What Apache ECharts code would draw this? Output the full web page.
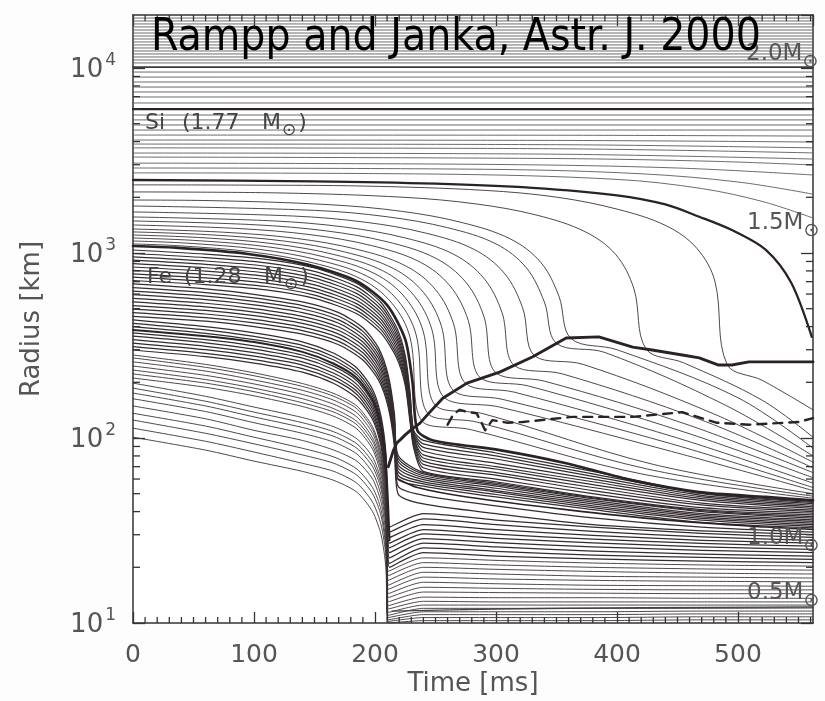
<!DOCTYPE html>
<html><head><meta charset="utf-8">
<script src="https://cdn.jsdelivr.net/npm/echarts/dist/echarts.min.js"></script>
<style>html,body{margin:0;padding:0;background:#fdfdfd}#c{width:825px;height:701px}</style>
</head><body><div id="c"></div>
<script>
// ---------- axis ----------
const X_MIN = 0, X_MAX = 562, Y_MIN = 10, Y_MAX = 19340;
const xMinorTicks = [10,20,30,40,50,60,70,80,90,110,120,130,140,150,160,170,180,190,210,220,230,240,250,260,270,280,290,310,320,330,340,350,360,370,380,390,410,420,430,440,450,460,470,480,490,510,520,530,540,550,560];
const yMinorTicks = [20,30,40,50,60,70,80,90,200,300,400,500,600,700,800,900,2000,3000,4000,5000,6000,7000,8000,9000];

// ---------- outer shells (radius in km, constant) ----------
const outerStatic = [18620,17950,17300,16670,16040,15450,14890,14350,13830,13320,12830,12360,11910,11470,11050,10650,9510,8930,8400,7890,7420,6970,6470,5570,5240,4920,4620];
const twoMassR = 10120;
const siR = 6000;
const outerDrift = [
  [[0,4340],[350,4330],[562,4285]],
  [[0,4080],[350,4060],[562,3980]],
  [[0,3880],[350,3850],[562,3700]],
  [[0,3700],[350,3660],[562,3475]],
  [[0,3470],[350,3420],[562,3220]],
  [[0,3300],[350,3240],[480,3130],[562,2990]],
  [[0,3060],[300,3010],[450,2880],[562,2640]],
  [[0,2880],[300,2830],[420,2680],[500,2420],[562,2080]],
  [[0,2710],[250,2670],[400,2500],[470,2230],[520,1900],[562,1546]]
];
const onePointFive = [[0,2480],[150,2440],[250,2370],[330,2250],[400,2050],[440,1830],[468,1570],[495,1330],[523,1040],[544,690],[561,352]];

// ---------- shells between Fe and 1.5 Msun: infall, shock crossing, settling ----------
const fallingShells = [
  [[0,2335],[91,2328],[191,2300],[291,2180],[351,2000],[401,1720],[441,1400],[466,1060],[481,700],[491,250],[520,205],[562,142]],
  [[0,2138],[124,2110],[224,2000],[284,1840],[334,1600],[374,1300],[399,980],[414,640],[424,303],[455,255],[520,160],[562,101]],
  [[0,1933],[62,1920],[162,1825],[222,1680],[272,1460],[312,1190],[337,890],[352,585],[362,345],[400,300],[500,165],[562,88]],
  [[0,1795],[150,1700],[210,1570],[260,1370],[300,1120],[325,833],[340,543],[350,325],[390,290],[490,150],[562,80]],
  [[0,1667],[132,1585],[192,1467],[242,1281],[282,1045],[307,776],[322,506],[332,278],[372,250],[480,135],[562,74]],
  [[0,1566],[115,1492],[175,1381],[225,1206],[265,984],[290,730],[305,476],[315,247],[355,222],[470,125],[562,69]],
  [[0,1490],[100,1422],[160,1316],[210,1150],[250,938],[275,696],[290,454],[300,225],[340,203],[460,117],[562,65]],
  [[0,1417],[87,1356],[147,1255],[197,1097],[237,895],[262,664],[277,433],[287,212],[327,191],[455,108],[562,61]],
  [[0,1348],[75,1295],[135,1199],[185,1047],[225,854],[250,634],[265,413],[275,197],[315,177],[450,100],[562,57]],
  [[0,1300],[65,1253],[125,1160],[175,1013],[215,826],[240,613],[255,400],[265,180],[305,162],[445,93],[562,54]],
  [[0,1251],[57,1210],[117,1120],[167,978],[207,798],[232,592],[247,386],[257,166],[303,147],[441,86],[562,52]],
  [[0,1205],[50,1170],[110,1083],[160,946],[200,772],[225,573],[240,374],[250,150],[290,135],[430,72],[562,50]],
  [[0,1161],[44,1131],[104,1047],[154,914],[194,746],[219,553],[234,361],[244,135],[284,122],[425,68],[562,48.5]],
  [[0,1119],[39,1093],[99,1012],[149,884],[189,721],[214,535],[229,349],[239,123],[279,111],[420,64],[562,47.3]]
];
const feShell = [[0,1091],[35,1068],[95,988],[145,863],[185,704],[210,523],[225,341],[231,200],[235,110],[248,97],[303,86],[358,73],[413,59],[468,51],[523,48],[562,46]];

// ---------- inner core shells (collapse, bounce, settle) ----------
const d3Times = [0,60,110,150,185,205,218,225,229,232,240,300,380,470,562];
const d3Rows = [
  [710,675,632,568,469,369,270,192,121,88,66,58,48,41,38.4],
  [740,703,659,592,488,385,281,200,126,91,69,60,50,42,39.2],
  [772,733,687,618,510,401,293,208,131,94,72,63,52,43.5,40.0],
  [805,765,716,644,531,419,306,217,137,97,75,65,54,44.5,40.8],
  [840,798,748,672,554,437,319,227,143,100,78,68,56,46,41.6],
  [876,832,780,701,578,456,333,237,149,102,81,70,58,47,42.5],
  [914,868,813,731,603,475,347,247,155,104,85,73,60,48,43.3],
  [953,905,848,762,629,496,362,257,162,106,89,77,62,49,44.2],
  [994,944,885,795,656,517,378,268,169,108,93,80,64,50,44.8],
  [1038,986,924,830,685,540,394,280,176,110,97,83,66,50.5,45.4]
];
const d2Times = [0,60,100,140,170,190,203,211,216,219,240,300,380,470,562];
const d2Rows = [
  [455,428,400,364,319,264,205,146,91,50,44,39,34,31.5,30.0],
  [476,447,419,381,333,276,214,152,95,55,49,43,37,33,31.0],
  [498,468,438,398,349,289,224,159,100,60,55,48,41,35,32.65],
  [520,489,458,416,364,302,234,166,104,63,56.5,49.5,42,36,33.3],
  [544,511,479,435,381,316,245,174,109,66,58,51,43,36.8,34.0],
  [569,535,501,455,398,330,256,182,114,69,59.5,52,44,37.5,34.7],
  [595,559,524,476,417,345,268,190,119,72,61,53.5,45,38.3,35.4],
  [622,585,547,498,435,361,280,199,124,75,62.5,55,46,39,36.1],
  [650,611,572,520,455,377,293,208,130,78,64,56,47,40,36.9],
  [680,639,598,544,476,394,306,218,136,81,65,57,47.5,40.5,37.6]
];
const d1Times = [0,60,100,140,166,185,198,205,209,212,240,300,380,470,562];
const d1Rows = [
  [299,275,254,227,197,164,126,90,57,20,24,23,22.2,21.6,21.2],
  [312,287,265,237,206,172,131,94,59,21,25.5,24.4,23.3,22.6,22.1],
  [326,300,277,248,215,179,137,98,62,22.5,27,25.8,24.5,23.6,23.0],
  [340,313,289,258,224,187,143,102,65,24,28.6,27.2,25.8,24.7,24.0],
  [355,327,302,270,234,195,149,107,67,25.5,30.3,28.7,27.1,25.8,25.0],
  [370,340,315,281,244,204,155,111,70,27,32,30.2,28.4,26.9,26.0],
  [400,368,340,304,264,220,168,120,76,29,34,32,29.8,28,27.0],
  [417,384,354,317,275,229,175,125,79,31,36.5,34,31.3,29.2,28.0],
  [435,400,370,331,287,239,183,131,83,33,39,36,33,30.5,29.0]
];
const thick384 = [384,355,330,292,252,211,161,115,73,28];
const c1Times = [0,60,100,140,166,185,198,205,209,211,240,300,380,470,562];
const c1Rows = [
  [281,250,225,197,174,149,115,84,56,19,22.5,21.8,21.1,20.6,20.3],
  [271,241,217,190,168,144,111,81,54,18,21.2,20.6,20.0,19.6,19.3],
  [258,230,206,181,160,137,106,77,52,17,20.0,19.5,19.0,18.6,18.4],
  [245,218,196,172,152,130,100,74,49,16,18.8,18.4,17.9,17.7,17.5],
  [233,207,186,163,144,123,96,70,47,15.2,17.7,17.3,17.0,16.8,16.7],
  [222,198,178,155,138,118,91,67,44,14.4,16.6,16.3,16.0,15.9,15.8],
  [211,188,169,148,131,112,87,63,42,13.7,15.6,15.4,15.2,15.1,15.1],
  [198,168,147,129,115,99,79,59,40,13.0,14.7,14.6,14.5,14.4,14.4],
  [186,158,138,121,108,93,74,56,37,12.4,13.8,13.7,13.7,13.6,13.6],
  [175,149,130,114,102,88,70,53,35,11.9,13.1,13.0,13.0,13.0,13.0],
  [163,139,121,106,95,82,65,49,33,11.4,12.5,12.5,12.5,12.5,12.5],
  [149,127,110,97,86,75,60,45,30,11.0,12.0,12.0,12.0,12.0,12.05],
  [136,116,101,88,79,68,54,41,27,10.7,11.5,11.5,11.5,11.6,11.6],
  [125,106,93,81,73,63,50,38,25,10.4,11.1,11.1,11.1,11.2,11.2],
  [113,96,84,73,66,57,45,34,23,10.2,10.7,10.7,10.7,10.8,10.8],
  [101,86,75,66,59,51,40,30,20,10.0,10.3,10.3,10.3,10.4,10.4]
];

// ---------- shock, gain radius (dashed), other marked shells ----------
const shockFront = [[211,70],[215,85],[218,94],[221,98],[225,104],[230,111],[237,120],[244,135],[256,164],[276,198],[303,227],[330,274],[358,347],[385,352],[413,310],[429,299],[454,281],[468,271],[484,248],[495,248],[509,258],[562,258]];
const gainDashed = [[260,118],[265,135],[270,142],[277,138],[284,136],[288,121],[291,110],[297,125],[309,121],[322,122],[363,130],[413,130],[454,138],[482,121],[509,118],[550,122],[562,128]];
const innerThickPost = [[219,60],[235,54],[276,48],[358,41],[441,36],[523,33],[562,32]];
const halfMassPost = [[214,11.6],[300,11.9],[420,12.1],[562,12.2]];

// ---------- build ----------
const THIN = '#3b3338', OUTER = '#5e5a5c', THICK = '#2a2227';
const series = [];
function addLine(points, o) {
  o = o || {};
  series.push({
    type: 'line', data: points, xAxisIndex: 0, yAxisIndex: 0,
    showSymbol: false, symbol: 'none', silent: true, animation: false,
    smooth: o.smooth || 0, z: o.z || 2,
    lineStyle: { width: o.w || 0.9, color: o.c || THIN, type: o.type || 'solid', cap: 'round', join: 'round' }
  });
}
function zip(times, row) { return row.map((r, i) => [times[i], r]); }

outerStatic.forEach(r => addLine([[X_MIN, r], [X_MAX, r]], { c: OUTER }));
addLine([[X_MIN, twoMassR], [X_MAX, twoMassR]], { c: '#3a3a3a', w: 1.7 });
addLine([[X_MIN, siR], [X_MAX, siR]], { c: THICK, w: 2.3 });
outerDrift.forEach(p => addLine(p, { c: OUTER, smooth: 0.35 }));
addLine(onePointFive, { c: THICK, w: 2.3, smooth: 0.3, z: 4 });
fallingShells.forEach(p => addLine(p, { smooth: 0.35 }));
d3Rows.forEach(r => addLine(zip(d3Times, r), { smooth: 0.25, w: 1.2, c: '#342c31' }));
d2Rows.forEach(r => addLine(zip(d2Times, r), { smooth: 0.25, w: 1.25, c: '#342c31' }));
d1Rows.forEach(r => addLine(zip(d1Times, r), { smooth: 0.25, w: 1.25, c: '#342c31' }));
c1Rows.forEach(r => addLine(zip(c1Times, r), { smooth: 0.25 }));
addLine(zip(d1Times, thick384), { c: THICK, w: 2.0, smooth: 0.25, z: 4 });
addLine(feShell, { c: THICK, w: 2.7, smooth: 0.25, z: 4 });
addLine(innerThickPost, { c: THICK, w: 1.6, smooth: 0.3, z: 4 });
addLine(halfMassPost, { c: '#444', w: 1.4, smooth: 0.3, z: 4 });
addLine(shockFront, { c: THICK, w: 2.9, z: 5 });
addLine(gainDashed, { c: THICK, w: 2.4, type: [9, 7], z: 5 });

// minor ticks (inside, on all four sides)
series.push({
  type: 'custom', xAxisIndex: 0, yAxisIndex: 0, silent: true, clip: false, z: 10,
  data: yMinorTicks.map(v => [X_MIN, v]), encode: { x: 0, y: 1 },
  renderItem: function (params, api) {
    const v = api.value(1);
    const l = api.coord([X_MIN, v]), r = api.coord([X_MAX, v]);
    const st = { stroke: '#333', lineWidth: 1.3 };
    return { type: 'group', children: [
      { type: 'line', shape: { x1: l[0], y1: l[1], x2: l[0] + 7, y2: l[1] }, style: st },
      { type: 'line', shape: { x1: r[0], y1: r[1], x2: r[0] - 7, y2: r[1] }, style: st }
    ] };
  }
});
series.push({
  type: 'custom', xAxisIndex: 0, yAxisIndex: 0, silent: true, clip: false, z: 10,
  data: xMinorTicks.map(t => [t, Y_MIN]), encode: { x: 0, y: 1 },
  renderItem: function (params, api) {
    const t = api.value(0);
    const b = api.coord([t, Y_MIN]), tp = api.coord([t, Y_MAX]);
    const st = { stroke: '#333', lineWidth: 1.3 };
    return { type: 'group', children: [
      { type: 'line', shape: { x1: b[0], y1: b[1], x2: b[0], y2: b[1] - 6 }, style: st },
      { type: 'line', shape: { x1: tp[0], y1: tp[1], x2: tp[0], y2: tp[1] + 6 }, style: st }
    ] };
  }
});

const FONT = '"DejaVu Sans", sans-serif';
const LABEL = '#555';
function xAxisCfg(pos, showLabel) {
  return {
    type: 'value', position: pos, min: X_MIN, max: X_MAX, interval: 100,
    axisLine: { show: true, onZero: false, lineStyle: { color: '#333', width: 1.5 } },
    axisTick: { show: true, inside: true, length: 11, lineStyle: { color: '#333', width: 1.3 } },
    minorTick: { show: false }, splitLine: { show: false },
    axisLabel: { show: showLabel, fontSize: 25, color: LABEL, fontFamily: FONT, margin: 20,
      showMaxLabel: false, formatter: v => (v % 100 === 0 ? String(v) : '') },
    name: showLabel ? 'Time [ms]' : '', nameLocation: 'middle', nameGap: 48, nameMoveOverlap: false,
    nameTextStyle: { fontSize: 26, color: LABEL, fontFamily: FONT }
  };
}
function yAxisCfg(pos, showLabel) {
  return {
    type: 'log', logBase: 10, position: pos, min: Y_MIN, max: Y_MAX,
    axisLine: { show: true, onZero: false, lineStyle: { color: '#333', width: 1.5 } },
    axisTick: { show: true, inside: true, length: 12, lineStyle: { color: '#333', width: 1.3 } },
    minorTick: { show: false }, splitLine: { show: false },
    axisLabel: { show: showLabel, margin: 17, showMaxLabel: false,
      formatter: function (v) {
        const e = Math.log10(v), k = Math.round(e);
        if (Math.abs(e - k) > 1e-6) return '';
        return '{a|10}{b|' + k + '}';
      },
      rich: {
        a: { fontSize: 26, color: LABEL, fontFamily: FONT, verticalAlign: 'bottom', padding: [0, 0, 0, 0] },
        b: { fontSize: 17, color: LABEL, fontFamily: FONT, verticalAlign: 'bottom', padding: [0, 0, 14, 2] }
      }
    },
    name: showLabel ? 'Radius [km]' : '', nameLocation: 'middle', nameGap: 88, nameMoveOverlap: false,
    nameTextStyle: { fontSize: 26, color: LABEL, fontFamily: FONT }
  };
}

function massLabel(txt, x, y) {
  return { type: 'text', x: x, y: y, z: 50, silent: true,
    style: { text: '{a|' + txt + '}{b|⊙}', align: 'left', verticalAlign: 'middle', textAlign: 'left', textVerticalAlign: 'middle',
      rich: {
        a: { fontSize: 23, fill: LABEL, color: LABEL, fontFamily: FONT, verticalAlign: 'bottom', padding: [0, 0, 6, 0] },
        b: { fontSize: 19, fill: LABEL, color: LABEL, fontFamily: FONT, verticalAlign: 'bottom' }
      } } };
}
function shellLabel(name, val, x, y) {
  return { type: 'text', x: x, y: y, z: 50, silent: true,
    style: { text: '{n|' + name + ' }{p|(' + val + ' }{a|M}{b|⊙}{a|)}', align: 'left', verticalAlign: 'middle', textAlign: 'left', textVerticalAlign: 'middle',
      rich: {
        n: { fontSize: 22, fill: '#444', color: '#444', fontFamily: FONT, width: 37, verticalAlign: 'bottom', padding: [0, 0, 5, 0] },
        p: { fontSize: 22, fill: '#444', color: '#444', fontFamily: FONT, width: 80, verticalAlign: 'bottom', padding: [0, 0, 5, 0] },
        a: { fontSize: 22, fill: '#444', color: '#444', fontFamily: FONT, verticalAlign: 'bottom', padding: [0, 0, 5, 0] },
        b: { fontSize: 17, fill: '#444', color: '#444', fontFamily: FONT, verticalAlign: 'bottom', padding: [0, 2, 0, 1] }
      } } };
}

const chart = echarts.init(document.getElementById('c'), null, { renderer: 'canvas' });
chart.setOption({
  backgroundColor: '#fdfdfd',
  animation: false,
  grid: { left: 133, right: 12, top: 15, bottom: 78, containLabel: false, outerBoundsMode: 'none', backgroundColor: '#fff', show: true, borderWidth: 0 },
  xAxis: [xAxisCfg('bottom', true), xAxisCfg('top', false)],
  yAxis: [yAxisCfg('left', true), yAxisCfg('right', false)],
  series: series,
  graphic: [
    { type: 'text', x: 151, y: 39, z: 100, silent: true,
      style: { text: 'Rampp and Janka, Astr. J. 2000', fill: '#000', fontSize: 44,
        fontFamily: '"DejaVu Sans Condensed", "Liberation Sans", sans-serif',
        align: 'left', verticalAlign: 'middle', textAlign: 'left', textVerticalAlign: 'middle' } },
    massLabel('2.0M', 746, 57),
    massLabel('1.5M', 747, 226),
    massLabel('1.0M', 747, 541),
    massLabel('0.5M', 747, 596),
    shellLabel('Si', '1.77', 145, 126),
    shellLabel('Fe', '1.28', 147, 280)
  ]
});
</script></body></html>
